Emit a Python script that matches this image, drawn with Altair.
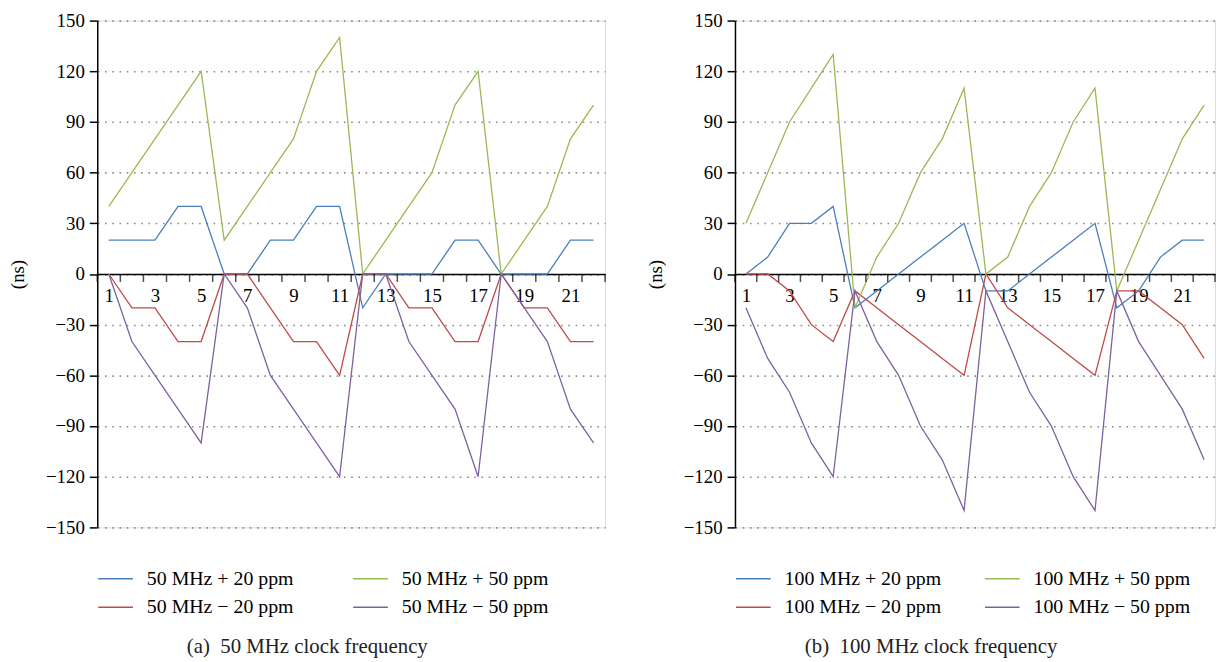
import altair as alt
import pandas as pd

# ---------------- data ----------------
x_vals = list(range(1, 23))

a_labels = ["50 MHz + 20 ppm", "50 MHz \u2212 20 ppm", "50 MHz + 50 ppm", "50 MHz \u2212 50 ppm"]
a_p20 = [20, 20, 20, 40, 40, 0, 0, 20, 20, 40, 40, -20, 0, 0, 0, 20, 20, 0, 0, 0, 20, 20]
a_m20 = [0, -20, -20, -40, -40, 0, 0, -20, -40, -40, -60, 0, 0, -20, -20, -40, -40, 0, -20, -20, -40, -40]
a_p50 = [40, 60, 80, 100, 120, 20, 40, 60, 80, 120, 140, 0, 20, 40, 60, 100, 120, 0, 20, 40, 80, 100]
a_m50 = [0, -40, -60, -80, -100, 0, -20, -60, -80, -100, -120, 0, 0, -40, -60, -80, -120, 0, -20, -40, -80, -100]

b_labels = ["100 MHz + 20 ppm", "100 MHz \u2212 20 ppm", "100 MHz + 50 ppm", "100 MHz \u2212 50 ppm"]
b_p20 = [0, 10, 30, 30, 40, -20, -10, 0, 10, 20, 30, -10, -10, 0, 10, 20, 30, -20, -10, 10, 20, 20]
b_m20 = [0, 0, -10, -30, -40, -10, -20, -30, -40, -50, -60, 0, -20, -30, -40, -50, -60, -10, -10, -20, -30, -50]
b_p50 = [30, 60, 90, 110, 130, -20, 10, 30, 60, 80, 110, 0, 10, 40, 60, 90, 110, -10, 20, 50, 80, 100]
b_m50 = [-20, -50, -70, -100, -120, -10, -40, -60, -90, -110, -140, -10, -40, -70, -90, -120, -140, -10, -40, -60, -80, -110]

y_ticks = [-150, -120, -90, -60, -30, 0, 30, 60, 90, 120, 150]

colors = ["#4a7ebb", "#be4b48", "#98b954", "#7d60a0"]  # +20, -20, +50, -50

FONT = "Liberation Serif"


def make_df(labels, series):
    rows = []
    for lab, vals in zip(labels, series):
        for xv, yv in zip(x_vals, vals):
            rows.append({"x": xv, "y": yv, "series": lab})
    return pd.DataFrame(rows)


def x_scale():
    return alt.Scale(domain=[0.5, 22.5], nice=False, zero=False)


def y_scale():
    return alt.Scale(domain=[-150, 150], nice=False)


def panel(df, labels, width, height, caption, col_pad):
    lines = alt.Chart(df).mark_line(strokeWidth=1.3).encode(
        x=alt.X(
            "x:Q",
            scale=x_scale(),
            title=None,
            axis=alt.Axis(
                title=None,
                values=x_vals,
                labelExpr="datum.value % 2 == 1 ? format(datum.value, 'd') : ''",
                ticks=False,
                domainColor="black",
                domainWidth=1.5,
                labelFont=FONT,
                labelFontSize=19,
                labelColor="black",
                labelPadding=13,
                labelOverlap=False,
                labelFlush=False,
                grid=False,
                offset=-height / 2,
            ),
        ),
        y=alt.Y(
            "y:Q",
            scale=y_scale(),
            title="(ns)",
            axis=alt.Axis(
                title="(ns)",
                values=y_ticks,
                tickSize=8,
                tickColor="black",
                tickWidth=1.5,
                domainColor="black",
                domainWidth=1.5,
                labelFont=FONT,
                labelFontSize=19,
                labelColor="black",
                labelPadding=5,
                titleFont=FONT,
                titleFontSize=19,
                titleFontWeight="normal",
                titleColor="black",
                titlePadding=18,
                grid=True,
                gridColor="#8a8a8a",
                gridDash=[1.6, 5.7],
                gridWidth=1.6,
            ),
        ),
        color=alt.Color(
            "series:N",
            sort=labels,
            scale=alt.Scale(domain=labels, range=colors),
            legend=alt.Legend(
                title=None,
                orient="none",
                legendX=0,
                legendY=height + 33,
                columns=2,
                columnPadding=col_pad,
                rowPadding=-8,
                padding=0,
                symbolType="stroke",
                symbolSize=1225,
                symbolStrokeWidth=1.6,
                labelFont=FONT,
                labelFontSize=20,
                labelColor="black",
                labelOffset=13,
                labelLimit=400,
            ),
        ),
    )

    # tick marks on the zero axis at the category boundaries (x - 0.5, and 22 + 0.5)
    tick_df = pd.DataFrame({"x": x_vals})
    ticks_left = alt.Chart(tick_df).transform_calculate(
        bx="datum.x - 0.5"
    ).mark_tick(color="black", thickness=1.5, size=8, yOffset=4, orient="vertical").encode(
        x=alt.X("bx:Q", scale=x_scale(), title=None),
        y=alt.datum(0, scale=y_scale(), title="(ns)"),
    )
    ticks_end = alt.Chart(tick_df).transform_filter("datum.x == 22").transform_calculate(
        bx="datum.x + 0.5"
    ).mark_tick(color="black", thickness=1.5, size=8, yOffset=4, orient="vertical").encode(
        x=alt.X("bx:Q", scale=x_scale(), title=None),
        y=alt.datum(0, scale=y_scale(), title="(ns)"),
    )

    return alt.layer(lines, ticks_left, ticks_end).properties(
        width=width,
        height=height,
        title=alt.TitleParams(
            caption,
            orient="bottom",
            anchor="middle",
            frame="bounds",
            font=FONT,
            fontSize=21,
            fontWeight="normal",
            color="#222222",
            offset=19,
        ),
    )


df_a = make_df(a_labels, [a_p20, a_m20, a_p50, a_m50])
df_b = make_df(b_labels, [b_p20, b_m20, b_p50, b_m50])

left = panel(df_a, a_labels, 512, 511, "(a)\u00a0\u00a050 MHz clock frequency", 56)
right = panel(df_b, b_labels, 484, 511, "(b)\u00a0\u00a0100 MHz clock frequency", 40)

chart = alt.hconcat(left, right, spacing=39).resolve_scale(color="independent").properties(
    padding={"left": 0, "top": 0, "right": 0, "bottom": 0}
).configure_view(stroke="transparent", strokeWidth=0).configure(background="white")

chart.save("out.html", embed_options={"renderer": "svg", "actions": False})
